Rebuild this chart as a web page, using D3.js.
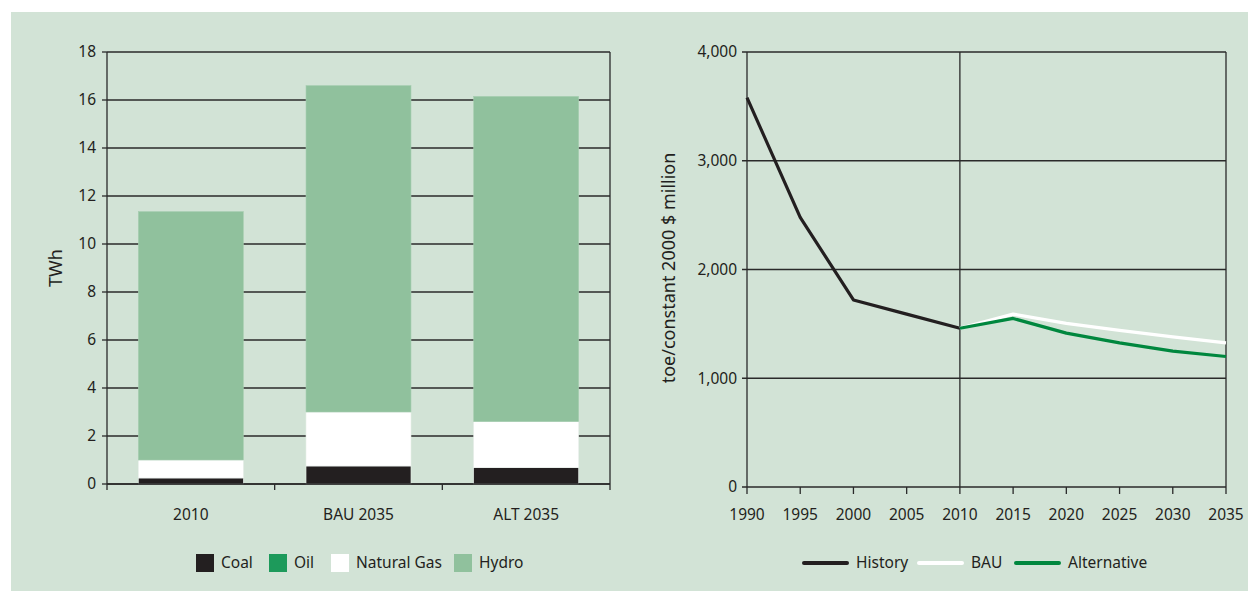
<!DOCTYPE html>
<html>
<head>
<meta charset="utf-8">
<script src="https://cdn.jsdelivr.net/npm/d3@7"></script>
<style>
  html, body { margin: 0; padding: 0; background: #ffffff; }
  svg { display: block; }
  text { font-family: "Noto Sans", "Open Sans", sans-serif; fill: #231f20; }
</style>
</head>
<body>
<script>
// ---- Data ----
const categories = ["2010", "BAU 2035", "ALT 2035"];
const coal = [0.25, 0.75, 0.68];
const oil = [0, 0, 0];
const naturalGas = [0.75, 2.25, 1.92];
const hydro = [10.35, 13.6, 13.55];
const leftTicks = [0, 2, 4, 6, 8, 10, 12, 14, 16, 18];
const stackSeries = ["Coal", "Oil", "Natural Gas", "Hydro"];

const years = [1990, 1995, 2000, 2005, 2010, 2015, 2020, 2025, 2030, 2035];
const historyYears = [1990, 1995, 2000, 2005, 2010];
const historyValues = [3580, 2480, 1720, 1590, 1460];
const projYears = [2010, 2015, 2020, 2025, 2030, 2035];
const bauValues = [1460, 1590, 1505, 1440, 1380, 1325];
const altValues = [1460, 1550, 1415, 1325, 1250, 1200];
const rightTicks = [0, 1000, 2000, 3000, 4000];
const lineSeries = ["History", "BAU", "Alternative"];

// ---- Styles ----
const colors = { "Coal": "#231f20", "Oil": "#1d9a5b", "Natural Gas": "#ffffff", "Hydro": "#90c19d" };
const lineColors = { "History": "#231f20", "BAU": "#ffffff", "Alternative": "#00873e" };
const gridColor = "#2a2a2a";
const fs = "15.5px";

const W = 1248, H = 591;
const svg = d3.select("body").append("svg").attr("width", W).attr("height", H);
svg.append("rect").attr("x", 11).attr("y", 12).attr("width", W - 11).attr("height", H - 12).attr("fill", "#d2e3d6");

// ---- Left chart ----
const L = { left: 107, right: 610, top: 52, bottom: 484 };
const xL = d3.scaleBand().domain(categories).range([L.left, L.right]).paddingInner(0.374).paddingOuter(0.187);
const yL = d3.scaleLinear().domain([0, 18]).range([L.bottom, L.top]);
const gL = svg.append("g");

gL.selectAll("line.grid").data(leftTicks).join("line")
  .attr("x1", L.left).attr("x2", L.right)
  .attr("y1", d => yL(d)).attr("y2", d => yL(d))
  .attr("stroke", gridColor).attr("stroke-width", 1.3);

const rows = categories.map((c, i) => ({ cat: c, "Coal": coal[i], "Oil": oil[i], "Natural Gas": naturalGas[i], "Hydro": hydro[i] }));
const stacked = d3.stack().keys(stackSeries)(rows);
stacked.forEach(s => {
  gL.selectAll(null).data(s.filter(d => d[1] - d[0] > 0)).join("rect")
    .attr("x", d => xL(d.data.cat))
    .attr("width", xL.bandwidth())
    .attr("y", d => yL(d[1]))
    .attr("height", d => yL(d[0]) - yL(d[1]))
    .attr("fill", colors[s.key])
    .attr("stroke", s.key === "Hydro" ? "#a6cdb0" : "#e8efe9")
    .attr("stroke-width", 0.6);
});

gL.append("line").attr("x1", L.left).attr("x2", L.left).attr("y1", L.top).attr("y2", L.bottom + 6).attr("stroke", gridColor).attr("stroke-width", 1.3);
gL.append("line").attr("x1", L.right).attr("x2", L.right).attr("y1", L.top).attr("y2", L.bottom + 6).attr("stroke", gridColor).attr("stroke-width", 1.3);
gL.append("line").attr("x1", L.left).attr("x2", L.right).attr("y1", L.bottom).attr("y2", L.bottom).attr("stroke", gridColor).attr("stroke-width", 1.3);
gL.selectAll("line.yt").data(leftTicks).join("line")
  .attr("x1", L.left - 5).attr("x2", L.left)
  .attr("y1", d => yL(d)).attr("y2", d => yL(d))
  .attr("stroke", gridColor).attr("stroke-width", 1.3);
gL.selectAll("text.yl").data(leftTicks).join("text")
  .attr("x", L.left - 11).attr("y", d => yL(d)).attr("dy", "0.35em")
  .attr("text-anchor", "end").style("font-size", fs).text(d => d);
const bounds = categories.map(c => xL(c) - xL.step() * xL.paddingInner() / 2).slice(1);
gL.selectAll("line.xt").data(bounds).join("line")
  .attr("x1", d => d).attr("x2", d => d).attr("y1", L.bottom).attr("y2", L.bottom + 6)
  .attr("stroke", gridColor).attr("stroke-width", 1.3);
gL.selectAll("text.xl").data(categories).join("text")
  .attr("x", d => xL(d) + xL.bandwidth() / 2).attr("y", 520)
  .attr("text-anchor", "middle").style("font-size", fs).text(d => d);
gL.append("text").attr("transform", "translate(62,268) rotate(-90)")
  .attr("text-anchor", "middle").style("font-size", "18px").text("TWh");

const legL = [196, 269, 331, 454];
stackSeries.forEach((k, i) => {
  svg.append("rect").attr("x", legL[i]).attr("y", 554).attr("width", 18).attr("height", 18).attr("fill", colors[k]);
  svg.append("text").attr("x", legL[i] + 25).attr("y", 568).style("font-size", fs).text(k);
});

// ---- Right chart ----
const R = { left: 747, right: 1226, top: 52, bottom: 487 };
const xR = d3.scaleLinear().domain([1990, 2035]).range([R.left, R.right]);
const yR = d3.scaleLinear().domain([0, 4000]).range([R.bottom, R.top]);
const gR = svg.append("g");
gR.selectAll("line.grid").data(rightTicks).join("line")
  .attr("x1", R.left - 5).attr("x2", R.right)
  .attr("y1", d => yR(d)).attr("y2", d => yR(d))
  .attr("stroke", gridColor).attr("stroke-width", 1.3);
[1990, 2010, 2035].forEach(v => {
  gR.append("line").attr("x1", xR(v)).attr("x2", xR(v)).attr("y1", R.top).attr("y2", R.bottom)
    .attr("stroke", gridColor).attr("stroke-width", 1.3);
});
gR.selectAll("line.xt").data(years).join("line")
  .attr("x1", d => xR(d)).attr("x2", d => xR(d)).attr("y1", R.bottom).attr("y2", R.bottom + 7)
  .attr("stroke", gridColor).attr("stroke-width", 1.3);
gR.selectAll("text.yl").data(rightTicks).join("text")
  .attr("x", R.left - 10).attr("y", d => yR(d)).attr("dy", "0.35em")
  .attr("text-anchor", "end").style("font-size", fs).text(d => d3.format(",")(d));
gR.selectAll("text.xl").data(years).join("text")
  .attr("x", d => xR(d)).attr("y", 520)
  .attr("text-anchor", "middle").style("font-size", fs).text(d => d);
gR.append("text").attr("transform", "translate(675,268) rotate(-90)")
  .attr("text-anchor", "middle").style("font-size", "18px").text("toe/constant 2000 $ million");

const line = d3.line().x(d => xR(d[0])).y(d => yR(d[1]));
const lineData = {
  "History": historyYears.map((y, i) => [y, historyValues[i]]),
  "BAU": projYears.map((y, i) => [y, bauValues[i]]),
  "Alternative": projYears.map((y, i) => [y, altValues[i]])
};
lineSeries.forEach(k => {
  gR.append("path").attr("d", line(lineData[k])).attr("fill", "none")
    .attr("stroke", lineColors[k]).attr("stroke-width", 3.2).attr("stroke-linejoin", "round");
});

const legR = [{ x: 804, tx: 856 }, { x: 919, tx: 971 }, { x: 1016, tx: 1068 }];
lineSeries.forEach((k, i) => {
  svg.append("line").attr("x1", legR[i].x).attr("x2", legR[i].x + 43).attr("y1", 563).attr("y2", 563)
    .attr("stroke", lineColors[k]).attr("stroke-width", 4).attr("stroke-linecap", "round");
  svg.append("text").attr("x", legR[i].tx).attr("y", 568).style("font-size", fs).text(k);
});
</script>
</body>
</html>
